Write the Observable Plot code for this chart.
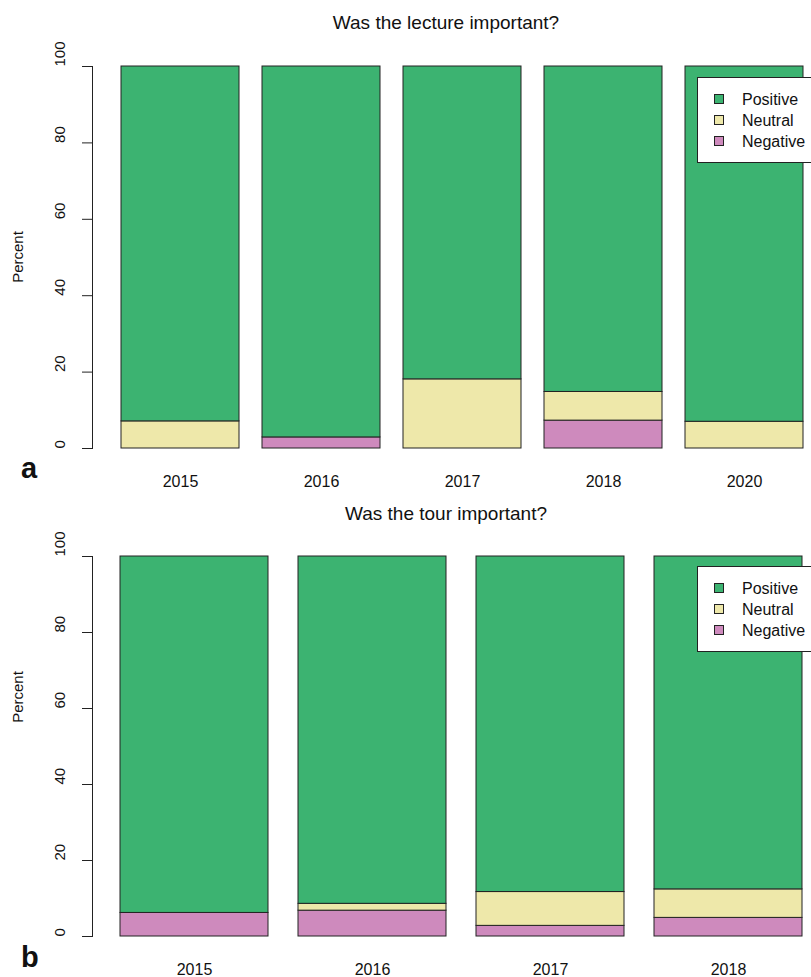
<!DOCTYPE html>
<html>
<head>
<meta charset="utf-8">
<script src="https://cdn.jsdelivr.net/npm/d3@7"></script>
<script src="https://cdn.jsdelivr.net/npm/@observablehq/plot@0.6"></script>
<style>
  html, body { margin: 0; padding: 0; background: #fff; }
  #root { position: relative; width: 811px; height: 977px; overflow: hidden; font-family: "Liberation Sans", Arial, Helvetica, sans-serif; }
  .panel { position: absolute; left: 0; width: 811px; }
  .panel svg { display: block; }
  #overlay { position: absolute; left: 0; top: 0; pointer-events: none; }
</style>
</head>
<body>
<div id="root">
  <div class="panel" id="panelA" style="top:0px"></div>
  <div class="panel" id="panelB" style="top:490px"></div>
</div>
<script>
// ---- data ----
const categories = ["Positive", "Neutral", "Negative"];
const stackOrder = ["Negative", "Neutral", "Positive"];
const categoryColors = ["#3CB371", "#EEE8AA", "#CE8ABD"];

const lectureTitle = "Was the lecture important?";
const lectureYears = ["2015", "2016", "2017", "2018", "2020"];
const lecturePositive = [92.9, 97.1, 81.9, 85.2, 93.0];
const lectureNeutral  = [7.1, 0, 18.1, 7.5, 7.0];
const lectureNegative = [0, 2.9, 0, 7.3, 0];

const tourTitle = "Was the tour important?";
const tourYears = ["2015", "2016", "2017", "2018"];
const tourPositive = [93.8, 91.4, 88.3, 87.6];
const tourNeutral  = [0, 1.8, 8.9, 7.5];
const tourNegative = [6.2, 6.8, 2.8, 4.9];

const yTicks = [0, 20, 40, 60, 80, 100];
const yLabel = "Percent";
const panelLetters = ["a", "b"];

function rowsFor(years, pos, neu, neg) {
  const rows = [];
  years.forEach((yr, i) => {
    rows.push({year: yr, category: "Negative", value: neg[i]});
    rows.push({year: yr, category: "Neutral", value: neu[i]});
    rows.push({year: yr, category: "Positive", value: pos[i]});
  });
  return rows;
}

const FONT = '"Liberation Sans", Arial, Helvetica, sans-serif';

function makePanel(years, rows, height) {
  return Plot.plot({
    width: 811,
    height: height,
    marginTop: 66,
    marginBottom: height === 490 ? 42 : 41,
    marginLeft: 120,
    marginRight: 8,
    style: {fontFamily: FONT, fontSize: "16px", color: "#111", background: "#fff"},
    x: {domain: years, paddingInner: 1 / 6, paddingOuter: 0, label: null},
    y: {domain: [0, 100], label: null},
    color: {domain: categories, range: categoryColors},
    marks: [
      Plot.barY(rows, {
        x: "year", y: "value", fill: "category",
        order: stackOrder, stroke: "#222", strokeWidth: 1
      }),
      Plot.axisX({tickSize: 0, tickPadding: 27, fontSize: 16, fill: "#111"}),
      Plot.axisY(yTicks, {tickSize: 10, dx: -28, tickFormat: () => "", stroke: "#222"}),
      Plot.frame({anchor: "left", dx: -28, stroke: "#222"}),
      Plot.text(yTicks, {
        y: d => d, text: d => String(d), frameAnchor: "left",
        dx: -60, rotate: -90, fontSize: 15, fill: "#111"
      })
    ]
  });
}

const plotA = makePanel(lectureYears, rowsFor(lectureYears, lecturePositive, lectureNeutral, lectureNegative), 490);
const plotB = makePanel(tourYears, rowsFor(tourYears, tourPositive, tourNeutral, tourNegative), 487);
document.getElementById("panelA").appendChild(plotA);
document.getElementById("panelB").appendChild(plotB);

// ---- overlay annotations (titles, panel letters, y label, legends) ----
const svg = d3.select("#root").append("svg")
  .attr("id", "overlay").attr("width", 811).attr("height", 977)
  .style("font-family", FONT);

const titles = [
  {text: lectureTitle, y: 29},
  {text: tourTitle, y: 520}
];
titles.forEach(t => svg.append("text")
  .attr("x", 446).attr("y", t.y).attr("text-anchor", "middle")
  .attr("font-size", 19).attr("fill", "#111").text(t.text));

const letters = [{t: panelLetters[0], y: 478}, {t: panelLetters[1], y: 967}];
letters.forEach(l => svg.append("text")
  .attr("x", 21).attr("y", l.y).attr("font-size", 29).attr("font-weight", "bold")
  .attr("fill", "#111").text(l.t));

[{cy: 257}, {cy: 697}].forEach(p => svg.append("text")
  .attr("transform", `translate(23,${p.cy}) rotate(-90)`)
  .attr("text-anchor", "middle").attr("font-size", 15).attr("fill", "#111").text(yLabel));

function legend(top) {
  const g = svg.append("g").attr("transform", `translate(697,${top})`);
  g.append("rect").attr("x", 0.5).attr("y", 0.5).attr("width", 150).attr("height", 85)
    .attr("fill", "#fff").attr("stroke", "#222");
  categories.forEach((c, i) => {
    const cy = 22 + i * 21;
    g.append("rect").attr("x", 17.5).attr("y", cy - 4.5).attr("width", 9).attr("height", 9)
      .attr("fill", categoryColors[i]).attr("stroke", "#222");
    g.append("text").attr("x", 45).attr("y", cy).attr("dy", "0.35em")
      .attr("font-size", 16).attr("fill", "#111").text(c);
  });
}
legend(77);
legend(566);
</script>
</body>
</html>
